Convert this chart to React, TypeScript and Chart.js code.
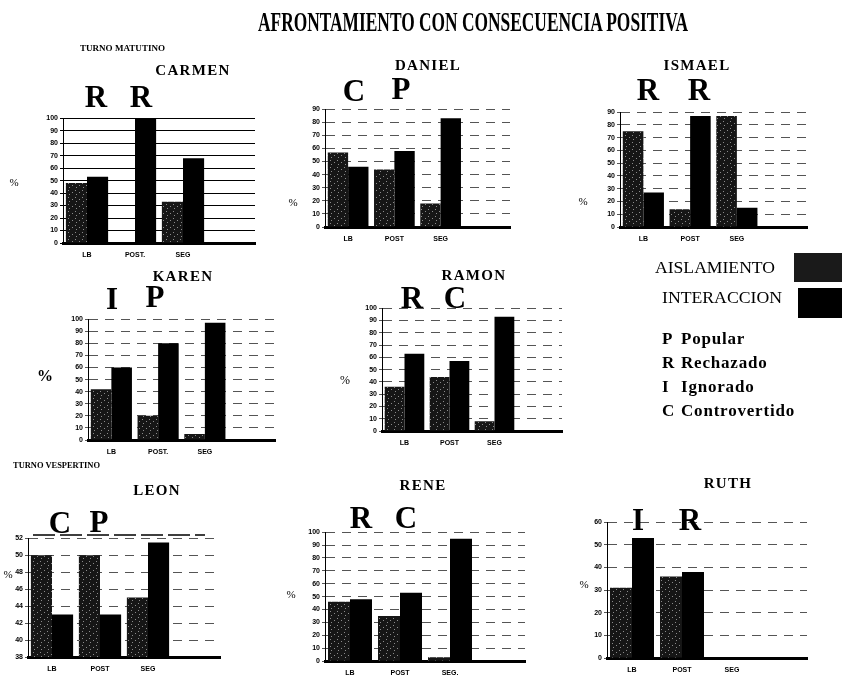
import React, { useEffect, useRef } from "react";
import { Chart, registerables } from "chart.js";
Chart.register(...registerables);

// ---------- DATA ----------
const carmenLabels = ["LB", "POST.", "SEG", ""];
const carmenAislamiento = [48, 0, 33];
const carmenInteraccion = [53, 100, 68];

const danielLabels = ["LB", "POST", "SEG", ""];
const danielAislamiento = [57, 44, 18];
const danielInteraccion = [46, 58, 83];

const ismaelLabels = ["LB", "POST", "SEG", ""];
const ismaelAislamiento = [75, 14, 87];
const ismaelInteraccion = [27, 87, 15];

const karenLabels = ["LB", "POST.", "SEG", ""];
const karenAislamiento = [42, 20, 5];
const karenInteraccion = [60, 80, 97];

const ramonLabels = ["LB", "POST", "SEG", ""];
const ramonAislamiento = [36, 44, 8];
const ramonInteraccion = [63, 57, 93];

const leonLabels = ["LB", "POST", "SEG", ""];
const leonAislamiento = [50, 50, 45];
const leonInteraccion = [43, 43, 51.5];

const reneLabels = ["LB", "POST", "SEG.", ""];
const reneAislamiento = [46, 35, 3];
const reneInteraccion = [48, 53, 95];

const ruthLabels = ["LB", "POST", "SEG", ""];
const ruthAislamiento = [31, 36, 0];
const ruthInteraccion = [53, 38, 0];

const seriesNames = ["AISLAMIENTO", "INTERACCION"];
const legendCodes = [
  ["P", "Popular"],
  ["R", "Rechazado"],
  ["I", "Ignorado"],
  ["C", "Controvertido"],
];

// ---------- CHART CONFIG ----------
type Box = { x0: number; x1: number; yTop: number; yBot: number };
type Spec = {
  name: string;
  labels: string[];
  a: number[];
  i: number[];
  min: number;
  max: number;
  step: number;
  solid?: boolean;
  box: Box;
};

const specs: Spec[] = [
  { name: "CARMEN", labels: carmenLabels, a: carmenAislamiento, i: carmenInteraccion, min: 0, max: 100, step: 10, solid: true, box: { x0: 63, x1: 255, yTop: 118, yBot: 243 } },
  { name: "DANIEL", labels: danielLabels, a: danielAislamiento, i: danielInteraccion, min: 0, max: 90, step: 10, box: { x0: 325, x1: 510, yTop: 109, yBot: 227 } },
  { name: "ISMAEL", labels: ismaelLabels, a: ismaelAislamiento, i: ismaelInteraccion, min: 0, max: 90, step: 10, box: { x0: 620, x1: 807, yTop: 112, yBot: 227 } },
  { name: "KAREN", labels: karenLabels, a: karenAislamiento, i: karenInteraccion, min: 0, max: 100, step: 10, box: { x0: 88, x1: 275, yTop: 319, yBot: 440 } },
  { name: "RAMON", labels: ramonLabels, a: ramonAislamiento, i: ramonInteraccion, min: 0, max: 100, step: 10, box: { x0: 382, x1: 562, yTop: 308, yBot: 431 } },
  { name: "LEON", labels: leonLabels, a: leonAislamiento, i: leonInteraccion, min: 38, max: 52, step: 2, box: { x0: 28, x1: 220, yTop: 538, yBot: 657 } },
  { name: "RENE", labels: reneLabels, a: reneAislamiento, i: reneInteraccion, min: 0, max: 100, step: 10, box: { x0: 325, x1: 525, yTop: 532, yBot: 661 } },
  { name: "RUTH", labels: ruthLabels, a: ruthAislamiento, i: ruthInteraccion, min: 0, max: 60, step: 10, box: { x0: 607, x1: 807, yTop: 522, yBot: 658 } },
];

const Y_W = 24;
const X_H = 16;
const PAD_T = 6;
const PAD_R = 2;

function makePattern(): CanvasPattern | string {
  const c = document.createElement("canvas");
  c.width = 7;
  c.height = 7;
  const g = c.getContext("2d");
  if (!g) return "#1e1e1e";
  g.fillStyle = "#161616";
  g.fillRect(0, 0, 7, 7);
  g.fillStyle = "#8a8a8a";
  [[1, 1], [5, 3], [2, 5]].forEach(([x, y]) => g.fillRect(x, y, 1, 1));
  return g.createPattern(c, "repeat") || "#1e1e1e";
}

function SubChart({ spec }: { spec: Spec }) {
  const ref = useRef<HTMLCanvasElement | null>(null);
  const { box } = spec;
  const left = box.x0 - Y_W;
  const top = box.yTop - PAD_T;
  const width = box.x1 - box.x0 + Y_W + PAD_R;
  const height = box.yBot - box.yTop + PAD_T + X_H;

  useEffect(() => {
    if (!ref.current) return;
    const tickFont = { family: "'Liberation Sans', Arial, sans-serif", size: 7, weight: "bold" as const };
    const chart = new Chart(ref.current, {
      type: "bar",
      data: {
        labels: spec.labels,
        datasets: [
          { label: seriesNames[0], data: spec.a, backgroundColor: makePattern() as any, borderWidth: 0 },
          { label: seriesNames[1], data: spec.i, backgroundColor: "#000", borderWidth: 0 },
        ],
      },
      options: {
        animation: false,
        responsive: false,
        devicePixelRatio: 1,
        layout: { padding: { top: PAD_T, right: PAD_R, left: 0, bottom: 0 } },
        plugins: { legend: { display: false }, tooltip: { enabled: false } },
        datasets: { bar: { categoryPercentage: 0.88, barPercentage: 1 } },
        scales: {
          x: {
            grid: { display: false },
            border: { display: true, color: "#000", width: 3 },
            ticks: { font: tickFont, color: "#000", padding: 0, maxRotation: 0, autoSkip: false },
            afterFit: (s: any) => { s.height = X_H; },
          },
          y: {
            min: spec.min,
            max: spec.max,
            ticks: { stepSize: spec.step, font: tickFont, color: "#000", padding: 2 },
            grid: {
              color: spec.solid ? "#000" : "#555",
              lineWidth: 1,
              drawTicks: true,
              tickLength: 3,
            },
            border: { display: true, color: "#000", width: 1, dash: spec.solid ? [] : [9, 7] },
            afterFit: (s: any) => { s.width = Y_W; },
          },
        },
      },
    } as any);
    return () => chart.destroy();
  }, []);

  return (
    <canvas
      ref={ref}
      width={width}
      height={height}
      style={{ position: "absolute", left, top, width, height }}
    />
  );
}

const serif = "'Liberation Serif', 'Times New Roman', serif";

type T = { x: number; y: number; t: string; size: number; bold?: boolean; anchor?: string; len?: number; spacing?: number; family?: string };

const names: T[] = [
  { x: 193, y: 75, t: "CARMEN", size: 15, bold: true, anchor: "middle", spacing: 1.3 },
  { x: 428, y: 70, t: "DANIEL", size: 15, bold: true, anchor: "middle", spacing: 1.3 },
  { x: 697, y: 70, t: "ISMAEL", size: 15, bold: true, anchor: "middle", spacing: 1.3 },
  { x: 183, y: 281, t: "KAREN", size: 15, bold: true, anchor: "middle", spacing: 1.3 },
  { x: 474, y: 280, t: "RAMON", size: 15, bold: true, anchor: "middle", spacing: 1.3 },
  { x: 157, y: 495, t: "LEON", size: 15, bold: true, anchor: "middle", spacing: 1.3 },
  { x: 423, y: 490, t: "RENE", size: 15, bold: true, anchor: "middle", spacing: 1.3 },
  { x: 728, y: 488, t: "RUTH", size: 15, bold: true, anchor: "middle", spacing: 1.3 },
];

const bigLetters: T[] = [
  { x: 96, y: 107, t: "R", size: 31, bold: true, anchor: "middle" },
  { x: 141, y: 107, t: "R", size: 31, bold: true, anchor: "middle" },
  { x: 354, y: 101, t: "C", size: 31, bold: true, anchor: "middle" },
  { x: 401, y: 99, t: "P", size: 31, bold: true, anchor: "middle" },
  { x: 648, y: 100, t: "R", size: 31, bold: true, anchor: "middle" },
  { x: 699, y: 100, t: "R", size: 31, bold: true, anchor: "middle" },
  { x: 112, y: 309, t: "I", size: 31, bold: true, anchor: "middle" },
  { x: 155, y: 307, t: "P", size: 31, bold: true, anchor: "middle" },
  { x: 412, y: 308, t: "R", size: 31, bold: true, anchor: "middle" },
  { x: 455, y: 308, t: "C", size: 31, bold: true, anchor: "middle" },
  { x: 60, y: 533, t: "C", size: 31, bold: true, anchor: "middle" },
  { x: 99, y: 532, t: "P", size: 31, bold: true, anchor: "middle" },
  { x: 361, y: 528, t: "R", size: 31, bold: true, anchor: "middle" },
  { x: 406, y: 528, t: "C", size: 31, bold: true, anchor: "middle" },
  { x: 638, y: 530, t: "I", size: 31, bold: true, anchor: "middle" },
  { x: 690, y: 530, t: "R", size: 31, bold: true, anchor: "middle" },
];

const percents: T[] = [
  { x: 14, y: 186, t: "%", size: 11, anchor: "middle" },
  { x: 293, y: 206, t: "%", size: 11, anchor: "middle" },
  { x: 583, y: 205, t: "%", size: 11, anchor: "middle" },
  { x: 45, y: 381, t: "%", size: 16, anchor: "middle", bold: true },
  { x: 345, y: 384, t: "%", size: 12, anchor: "middle" },
  { x: 8, y: 578, t: "%", size: 11, anchor: "middle" },
  { x: 291, y: 598, t: "%", size: 11, anchor: "middle" },
  { x: 584, y: 588, t: "%", size: 11, anchor: "middle" },
];

function Txt({ x, y, t, size, bold, anchor, len, spacing, family }: T) {
  return (
    <text
      x={x}
      y={y}
      fontFamily={family || serif}
      fontSize={size}
      fontWeight={bold ? "bold" : "normal"}
      textAnchor={anchor || "start"}
      letterSpacing={spacing}
      {...(len ? { textLength: len, lengthAdjust: "spacingAndGlyphs" } : {})}
      fill="#000"
    >
      {t}
    </text>
  );
}

export default function App() {
  return (
    <div style={{ position: "fixed", left: 0, top: 0, width: 842, height: 678, background: "#fff", overflow: "hidden" }}>
      {specs.map((s) => (
        <SubChart key={s.name} spec={s} />
      ))}
      <svg width={842} height={678} style={{ position: "absolute", left: 0, top: 0, pointerEvents: "none" }}>
        <Txt x={258} y={31} t="AFRONTAMIENTO CON CONSECUENCIA POSITIVA" size={27} bold len={430} />
        <Txt x={80} y={51} t="TURNO MATUTINO" size={9} bold len={85} />
        <Txt x={13} y={468} t="TURNO VESPERTINO" size={9} bold len={87} />
        {names.map((n, k) => <Txt key={"n" + k} {...n} />)}
        {bigLetters.map((n, k) => <Txt key={"b" + k} {...n} />)}
        {percents.map((n, k) => <Txt key={"p" + k} {...n} />)}
        <line x1={33} y1={535} x2={205} y2={535} stroke="#000" strokeWidth={1.5} strokeDasharray="22 5" />
        <Txt x={655} y={273} t={seriesNames[0]} size={16} len={120} />
        <Txt x={662} y={303} t={seriesNames[1]} size={16} len={120} />
        <rect x={794} y={253} width={48} height={29} fill="#1a1a1a" />
        <rect x={798} y={288} width={44} height={30} fill="#000" />
        {legendCodes.map(([c, w], k) => (
          <g key={"l" + k}>
            <Txt x={662} y={344 + k * 24} t={c} size={17} bold />
            <Txt x={681} y={344 + k * 24} t={w} size={17} bold spacing={0.8} />
          </g>
        ))}
      </svg>
    </div>
  );
}
